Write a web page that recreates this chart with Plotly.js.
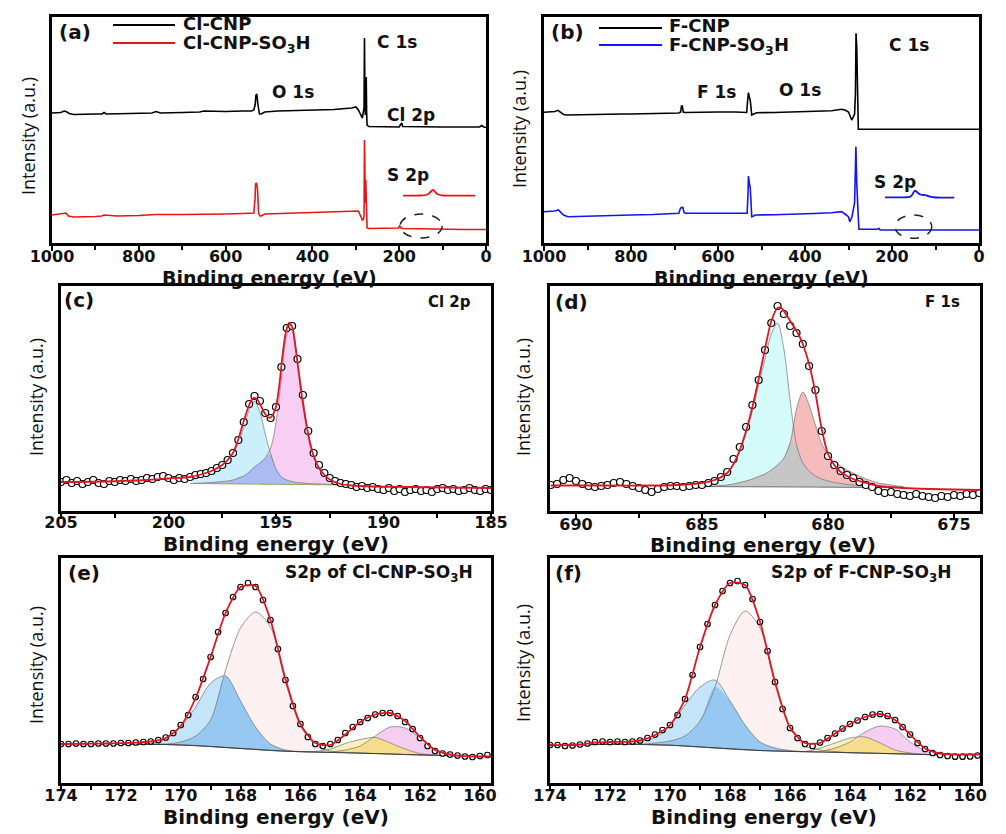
<!DOCTYPE html>
<html><head><meta charset="utf-8">
<script src="https://cdn.plot.ly/plotly-3.0.1.min.js"></script>
<style>html,body{margin:0;padding:0;background:#fff}#chart{width:1006px;height:834px}</style>
</head><body><div id="chart"></div>
<script>
// ---------- (a) survey: Cl-CNP / Cl-CNP-SO3H ----------
const a_cl_x = [1000,990,980,972,968,960,950,900,885,880,875,820,770,760,750,700,660,650,600,560,540,535,532,530,528,526,524,522,518,510,480,440,400,350,310,300,294,289,285,281,280,279,278,277,276,275,274,270,230,200,196,194,192,150,100,50,15,10,5,0];
const a_cl_y = [130,130,130.5,132,131.5,129.5,128.5,129,129,130.5,129,129.5,130,131.5,130,130.5,131,132,131.5,132,132,133,138,148,149,140,132,129,129,131,132,132.5,133,133.5,135,136,133,128,125,135,205,150,128,160,166,130,118,116.5,116,116,119,120,116.5,116,116,116,116,117.5,116,115.5];
const a_so3h_x = [1000,990,980,972,968,962,955,950,900,885,880,850,800,760,700,650,600,560,540,535,532,531,529,527,526,524,521,518,510,450,400,350,310,300,294,289,285,282,281,280,279,278,277,276,275,274,270,230,210,202,199,196,190,150,100,50,0];
const a_so3h_y = [28,28.5,29,30,30,27,26,26,26.5,27,28,27,27.5,28.5,28.5,28.5,29,29.5,29.5,30,45,59,60,56,50,30,27,27,29,30,30.5,31,32,32.5,32,27,23,24,28,103,60,40,63,45,25,15,14.5,14.5,14.5,15,17,15,14.5,14,14,13.5,13.5];
const a_inset_x = [191,170,150,138,130,126,122,119,116,112,106,100,80,50,25];
const a_inset_y = [47.3,47.3,47.5,48,50,52,53,52,50.5,49,48,47.5,47.3,47.3,47.3];

// ---------- (b) survey: F-CNP / F-CNP-SO3H ----------
const b_f_x = [1000,985,975,968,962,955,948,900,876,820,800,750,700,690,686,684,682,680,676,640,600,560,540,534,532,530,528,526,524,522.5,518,511,470,416,380,339,316,308,300,296,292.6,290,286,284,282.7,281,279.5,278,277.4,250,150,50,0];
const b_f_y = [130.7,131,131.5,132.7,131,128.5,128,128.5,129,129,129,129.5,130,130,131,137,137,131,130.5,131,131,131,130.5,130.5,142,150.3,146,143,135,128,129,130.3,130.5,131,131.5,132.3,133.7,133,131,127,123,125,129,150,209.7,195,170,140,113.7,113.7,113.7,113.7,113.7];
const b_so3h_x = [1000,985,976,967,960,955,945,900,876,800,750,700,690,687,685,681,678,675,640,600,560,540,533,531,530,528,526,524,522.5,518,515,470,416,380,339,316,305,300,297,292,286,284,283,281,280,278,276,260,235,230,227,200,100,0];
const b_so3h_y = [31.3,31.5,32,33,30,28,26.3,27,27.3,28,28.5,29,29.7,34,35.3,35.7,30.5,29.7,29.7,29.7,29.7,29.7,29.7,50,67,60,56,40,26.3,27,28,28.3,28.7,29.5,30.3,31.3,28,26,21.3,26.3,40,70,96.3,60,43,30,13.7,13.7,13.7,14.5,13,13,13,13];
const b_inset_x = [216,190,170,158,153,150,147,144,140,135,128,120,112,100,80,57];
const b_inset_y = [45.7,45.7,45.7,46.3,48.5,51,52.3,51.5,50,48.5,48,47.5,46.3,45.5,45.3,45.3];

// ---------- (c) Cl 2p ----------
const c_data_x = [205,204.75,204.5,204.25,204,203.75,203.5,203.25,203,202.75,202.5,202.25,202,201.75,201.5,201.25,201,200.75,200.5,200.25,200,199.75,199.5,199.25,199,198.75,198.5,198.25,198,197.75,197.5,197.25,197,196.75,196.5,196.25,196,195.75,195.5,195.25,195,194.75,194.5,194.25,194,193.75,193.5,193.25,193,192.75,192.5,192.25,192,191.75,191.5,191.25,191,190.75,190.5,190.25,190,189.75,189.5,189.25,189,188.75,188.5,188.25,188,187.75,187.5,187.25,187,186.75,186.5,186.25,186,185.75,185.5,185.25,185];
const c_data_y = [29,31,28,30,27,29,31,28,27,30,29,31,30,32,30,31,33,32,34,35,33,31,33,32,34,36,37,38,40,43,46,51,58,71,89,107,115,110,98,93,104,144,183,185,152,116,80,58,46,38,33,30,28,27,26,24,25,23,24,22,21,23,20,22,19,21,22,20,21,19,22,23,21,22,20,21,23,21,20,22,21];
const c_fit_x = [205,203,201,200,199,198.5,198,197.5,197.25,197,196.75,196.5,196.25,196.1,196,195.85,195.7,195.5,195.3,195.15,195,194.85,194.7,194.55,194.4,194.25,194.1,193.95,193.8,193.6,193.4,193.2,193,192.75,192.5,192,191.5,190.5,189,187,185];
const c_fit_y = [29,29.5,31,32.5,34,36.5,40,46,51,58,72,90,106,112,113,111,105,97,93,96,104,125,155,178,188,184,165,140,115,88,66,52,43,36,31.5,27,25.5,24.5,24,23.5,23];
const c_comp_x = [199,198.75,198.5,198.25,198,197.75,197.5,197.25,197,196.75,196.5,196.25,196,195.75,195.5,195.25,195,194.75,194.5,194.25,194,193.75,193.5,193.25,193,192.75,192.5,192.25,192,191.75,191.5,191.25,191];
const c_base = [27.5,27.4,27.4,27.3,27.3,27.2,27.2,27.1,27.1,27,27,26.9,26.9,26.8,26.8,26.7,26.7,26.6,26.6,26.5,26.5,26.4,26.4,26.3,26.3,26.2,26.2,26.1,26.1,26,26,25.9,25.9];
const c_cl2p12 = [31,32.5,34,36,38.5,42,46,51,57,68,84,101,110,99,77,57,42,34,31,29.5,28.5,28,27.5,27.2,27,26.8,26.6,26.4,26.3,26.2,26,25.9,25.9];
const c_cl2p32 = [27.6,27.7,28,28.2,28.5,29,29.5,30,31,33,35,39,44,48,53,63,88,132,176,184,150,114,79,57,45,37,32,29.5,28,27,26.5,26.2,26];

// ---------- (d) F 1s ----------
const d_data_x = [691,690.75,690.5,690.25,690,689.75,689.5,689.25,689,688.75,688.5,688.25,688,687.75,687.5,687.25,687,686.75,686.5,686.25,686,685.75,685.5,685.25,685,684.75,684.5,684.25,684,683.75,683.5,683.25,683,682.75,682.5,682.25,682,681.75,681.5,681.25,681,680.75,680.5,680.25,680,679.75,679.5,679.25,679,678.75,678.5,678.25,678,677.75,677.5,677.25,677,676.75,676.5,676.25,676,675.75,675.5,675.25,675,674.75,674.5,674.25,674];
const d_data_y = [26,27,31,33,30,27,25,24,25,26,28,29,27,25,23,21,19,22,24,25,25,24,25,26,26,28,30,34,39,52,64,84,106,131,161,188,205,197,185,178,167,145,121,80,55,46,40,36,33,29,26,24,20,18,19,17,16,15,17,15,14,13,15,14,16,15,17,16,18];
const d_fit_x = [691,689,687,686,685,684.5,684,683.75,683.5,683.25,683,682.75,682.5,682.25,682,681.85,681.65,681.4,681.2,681,680.75,680.5,680.25,680,679.75,679.5,679.25,679,678.5,678,677,676,674];
const d_fit_y = [25.5,25.5,25.5,26,28,31,38,47,61,80,104,132,162,190,203,203,196,186,178,167,147,118,82,57,46,39,35,32,28,25,23,22,21];
const d_comp_x = [685.5,685.25,685,684.75,684.5,684.25,684,683.75,683.5,683.25,683,682.75,682.5,682.25,682,681.75,681.5,681.25,681,680.75,680.5,680.25,680,679.75,679.5,679.25,679,678.75,678.5,678.25,678,677.75,677.5,677.25,677];
const d_base = [24.5,24.5,24.4,24.4,24.4,24.3,24.3,24.3,24.2,24.2,24.2,24.1,24.1,24.1,24,24,24,24,23.9,23.9,23.9,23.8,23.8,23.8,23.7,23.7,23.7,23.6,23.6,23.6,23.5,23.5,23.5,23.5,23.5];
const d_f1 = [26,26.5,27.5,29,31,34,38,47,59,78,100,126,152,177,188,162,110,66,48,40,35,32,30,28.5,27.5,26.5,26,25.5,25,24.7,24.5,24.3,24.2,24,23.8];
const d_f2 = [24.5,24.5,24.6,24.8,25,25.5,26,27,28.5,30,32,34.5,37,41,46,53,68,102,119,106,86,67,56,49,45,41,38,35,32,30,28,27,26,25,24.5];

// ---------- (e)/(f) S 2p ----------
const s_data_x = [174,173.75,173.5,173.25,173,172.75,172.5,172.25,172,171.75,171.5,171.25,171,170.75,170.5,170.25,170,169.75,169.5,169.25,169,168.75,168.5,168.25,168,167.75,167.5,167.25,167,166.75,166.5,166.25,166,165.75,165.5,165.25,165,164.75,164.5,164.25,164,163.75,163.5,163.25,163,162.75,162.5,162.25,162,161.75,161.5,161.25,161,160.75,160.5,160.25,160,159.75];
const e_data_y = [39,39,39.5,39,39,39.5,39.5,39.5,40,40,40.5,41,41.5,43,45.5,50,58,68,86,104,126,151,170,186,196,200,196,183,163,134,103,77,59,46,39,37,39,43,50,56,61,65,68.5,70,70,67,61,54,45,37,32,29.5,28.5,27.5,26.5,26,27,28];
const f_data_y = [38,38,37,37.5,38.5,39.5,41,41.5,41,41.5,41,41.5,42.5,45,48.5,53,58,68,84,108,136,159,178,192,200,202,198,184,161,132,101,74,55,45,39,37,40.5,45,49.5,54.5,59,62.5,66,68.5,69,67,63,56,48.5,40,34,30,28,27,26.3,26.3,26.5,27.5];
const s_comp_x = [174,173.5,173,172.5,172,171.5,171,170.5,170,169.5,169,168.5,168,167.5,167,166.5,166,165.5,165,164.5,164,163.5,163,162.5,162,161.5,161,160.5,160,159.5];
const e_base = [39,39,39,39,39,39,38.8,38.5,38,37.5,36.5,35.5,34.5,33.5,32.5,31.8,31.3,31,30.8,30.5,30,29.5,29,28.5,28,27.6,27.3,27,26.8,26.6];
const e_so3_a = [39,39,39,39,39,39,40,44,56,76,100,107,82,56,39,33,31.5,31,30.8,30.5,30,29.5,29,28.5,28,27.6,27.3,27,26.8,26.6];
const e_so3_b = [39,39,39,39,39,39,38.8,39,41,47,63,113,155,171,156,101,57,38,32,30.5,30,29.5,29,28.5,28,27.6,27.3,27,26.8,26.6];
const e_cs_a = [39,39,39,39,39,39,38.8,38.5,38,37.5,36.5,35.5,34.5,33.5,32.5,31.8,31.3,31.5,34,39.5,43.5,45.5,40,34,29.5,27.8,27.3,27,26.8,26.6];
const e_cs_b = [39,39,39,39,39,39,38.8,38.5,38,37.5,36.5,35.5,34.5,33.5,32.5,31.8,31.3,31,31,33,37,47,56,55,45,34,28.5,27.2,26.8,26.6];
const e_fit = [39,39.2,39.3,39.5,39.8,40.3,41.5,45,57,85,126,170,196,197,163,104,59,40,38,48.5,61,68.5,70,62,46,33,28.5,26.8,26.5,26.5];
const f_base = [38,38,38.2,38.5,38.7,38.8,38.7,38.3,37.8,37,36,35,34,33.2,32.5,32,31.6,31.3,31,30.7,30.3,30,29.6,29.2,28.8,28.4,28.1,27.9,27.8,27.8];
const f_so3_a = [38,38,38.2,38.5,38.7,41,42,45.5,57,78,96,103,82,58,41,35,32.5,31.3,31,30.7,30.3,30,29.6,29.2,28.8,28.4,28.1,27.9,27.8,27.8];
const f_so3_b = [38,38,38.2,38.5,38.7,38.8,38.7,40,42,47,62,96,148,172,155,99,55,37,33,31.5,30.3,30,29.6,29.2,28.8,28.4,28.1,27.9,27.8,27.8];
const f_cs_a = [38,38,38.2,38.5,38.7,38.8,38.7,38.3,37.8,37,36,35,34,33.2,32.5,32,31.6,31.5,35,40,45,46,40,33,30,28.6,28.1,27.9,27.8,27.8];
const f_cs_b = [38,38,38.2,38.5,38.7,38.8,38.7,38.3,37.8,37,36,35,34,33.2,32.5,32,31.6,31.3,31.5,35,41,51,57,54,41,32,28.8,28,27.8,27.8];
const f_fit = [38,37.8,38.5,40.5,41,41.2,42.5,48,58,84,136,178,200,198,161,101,55.5,40,40,49.5,59,66,69,63,48.5,34.5,29.5,28.5,28.5,28.5];

// ---------- tick labels ----------
const surveyTicks = [1000,800,600,400,200,0], surveyMinor = [900,700,500,300,100];
const clTicks = [205,200,195,190,185], clMinor = [202.5,197.5,192.5,187.5];
const fTicks = [690,685,680,675], fMinor = [687.5,682.5,677.5];
const sTicks = [174,172,170,168,166,164,162,160], sMinor = [173,171,169,167,165,163,161];

// ================= build =================
const W = 1006, H = 834;
const traces = [];
function add(t, k){ const s = k>1 ? String(k) : ''; t.xaxis='x'+s; t.yaxis='y'+s; t.showlegend=false; t.hoverinfo='skip'; traces.push(t); }
function band(xs, top, base, col, k){
  const x = xs.concat(xs.slice(1,-1).reverse());
  const y = top.concat(base.slice(1,-1).reverse());
  add({x, y, mode:'lines', fill:'toself', fillcolor:col, line:{width:0, shape:'spline', smoothing:0.8}}, k);
}
function minOf(a,b){ return a.map((v,i)=>Math.min(v,b[i])); }
function outline(xs, top, k, col){ add({x:xs, y:top, mode:'lines', line:{color:col||'rgba(110,110,110,0.85)', width:0.8, shape:'spline', smoothing:0.8}}, k); }
function line(xs, ys, col, w, k, shape){ add({x:xs, y:ys, mode:'lines', line:{color:col, width:w, shape:shape||'linear', smoothing:0.7}}, k); }
function circles(xs, ys, size, k){ add({x:xs, y:ys, mode:'markers', marker:{symbol:'circle', size:size, color:'white', line:{color:'black', width:1.2}}}, k); }

const RED = 'rgb(235,20,20)', BLUE = 'rgb(20,20,235)', FIT = 'rgb(222,22,36)';
// (a)
line(a_cl_x, a_cl_y, 'black', 1.6, 1);
line(a_so3h_x, a_so3h_y, RED, 1.6, 1);
line(a_inset_x, a_inset_y, RED, 1.8, 1, 'spline');
// (b)
line(b_f_x, b_f_y, 'black', 1.6, 2);
line(b_so3h_x, b_so3h_y, BLUE, 1.6, 2);
line(b_inset_x, b_inset_y, BLUE, 1.8, 2, 'spline');
// (c)
band(c_comp_x, c_cl2p12, c_base, 'rgb(204,240,251)', 3);
band(c_comp_x, c_cl2p32, c_base, 'rgb(249,206,245)', 3);
band(c_comp_x, minOf(c_cl2p12, c_cl2p32), c_base, 'rgb(170,188,242)', 3);
outline(c_comp_x, c_cl2p12, 3); outline(c_comp_x, c_cl2p32, 3);
line(c_comp_x, c_base, 'rgba(150,150,60,0.8)', 1, 3);
circles(c_data_x, c_data_y, 7, 3);
line(c_fit_x, c_fit_y, FIT, 1.8, 3, 'spline');
// (d)
band(d_comp_x, d_f1, d_base, 'rgb(212,250,250)', 4);
band(d_comp_x, d_f2, d_base, 'rgb(246,188,188)', 4);
band(d_comp_x, minOf(d_f1, d_f2), d_base, 'rgb(198,198,198)', 4);
outline(d_comp_x, d_f1, 4); outline(d_comp_x, d_f2, 4);
line(d_comp_x, d_base, 'rgba(90,90,90,0.8)', 1, 4);
circles(d_data_x, d_data_y, 7, 4);
line(d_fit_x, d_fit_y, FIT, 1.8, 4, 'spline');
// (e) and (f)
function s2p(k, base, so3a, so3b, csa, csb, data, fit){
  band(s_comp_x, so3b, base, 'rgb(252,240,241)', k);
  band(s_comp_x, so3a, base, 'rgb(196,228,250)', k);
  band(s_comp_x, minOf(so3a, so3b), base, 'rgb(150,200,242)', k);
  band(s_comp_x, csb, base, 'rgb(246,206,242)', k);
  band(s_comp_x, csa, base, 'rgb(250,240,190)', k);
  band(s_comp_x, minOf(csa, csb), base, 'rgb(248,222,140)', k);
  outline(s_comp_x, so3a, k); outline(s_comp_x, so3b, k); outline(s_comp_x, csa, k); outline(s_comp_x, csb, k);
  line(s_comp_x, base, 'rgba(50,50,50,0.85)', 1, k);
  circles(s_data_x, data, 5.5, k);
  line(s_comp_x, fit, FIT, 1.8, k, 'spline');
}
s2p(5, e_base, e_so3_a, e_so3_b, e_cs_a, e_cs_b, e_data_y, e_fit);
s2p(6, f_base, f_so3_a, f_so3_b, f_cs_a, f_cs_b, f_data_y, f_fit);

// ---------- axes ----------
const rects = { // left, right, top, bottom in px
  1:[52,486,17,243], 2:[544,979,17,243], 3:[61,491,286,511], 4:[550,980,286,511], 5:[61,491,558,783], 6:[550,980,558,783]
};
const xcfg = {
  1:{range:[1000,0], t:surveyTicks, m:surveyMinor, fs:16, so:-8},
  2:{range:[1000,0], t:surveyTicks, m:surveyMinor, fs:16, so:-8},
  3:{range:[205,185], t:clTicks, m:clMinor, fs:16, so:-10},
  4:{range:[691.03,673.97], t:fTicks, m:fMinor, fs:16, so:-8},
  5:{range:[174,159.63], t:sTicks, m:sMinor, fs:16, so:-9},
  6:{range:[174,159.67], t:sTicks, m:sMinor, fs:16, so:-9}
};
const layout = {width:W, height:H, margin:{l:0,r:0,t:0,b:0}, paper_bgcolor:'white', plot_bgcolor:'white',
  font:{family:'DejaVu Sans', color:'black'}, showlegend:false, annotations:[], shapes:[]};
for (let k=1;k<=6;k++){
  const [l,r,t,b] = rects[k]; const s = k>1?String(k):'';
  layout['xaxis'+s] = {domain:[l/W, r/W], anchor:'y'+s, range:xcfg[k].range, showline:true, linewidth:3, linecolor:'black', mirror:true,
    showgrid:false, zeroline:false, ticks:'outside', ticklen:5, tickwidth:2, tickcolor:'black', tickmode:'array', tickvals:xcfg[k].t,
    ticklabelstandoff:xcfg[k].so,
    tickfont:{family:'DejaVu Sans', size:xcfg[k].fs, color:'#111', weight:'bold'},
    minor:{tickmode:'array', tickvals:xcfg[k].m, ticks:'outside', ticklen:4, tickwidth:2, tickcolor:'black', showgrid:false}};
  layout['yaxis'+s] = {domain:[1-b/H, 1-t/H], anchor:'x'+s, range:[0, b-t], showline:true, linewidth:3, linecolor:'black', mirror:true,
    showgrid:false, zeroline:false, ticks:'', showticklabels:false};
}
function ann(text, px, py, size, anchor, extra){
  return Object.assign({text, x:px/W, y:1-py/H, xref:'paper', yref:'paper', xanchor:anchor||'left', yanchor:'middle', showarrow:false,
    font:{family:'DejaVu Sans', size, color:'#111', weight:'bold'}}, extra||{});
}
function ytitle(px, py){ return ann('Intensity (a.u.)', px, py, 18, 'center', {textangle:-90, font:{family:'Open Sans', size:18, color:'#111'}}); }
const A = layout.annotations;
// (a)
A.push(ann('(a)', 57, 32, 20), ann('Cl-CNP', 181, 23, 18), ann('Cl-CNP-SO<sub>3</sub>H', 181, 44, 18),
  ann('C 1s', 375, 42, 17), ann('O 1s', 270, 92, 17), ann('Cl 2p', 385, 115, 17), ann('S 2p', 385, 175, 17),
  ytitle(28, 136), ann('Binding energy (eV)', 269, 278, 19, 'center'));
// (b)
A.push(ann('(b)', 549, 32, 20), ann('F-CNP', 667, 25, 18), ann('F-CNP-SO<sub>3</sub>H', 667, 46, 18),
  ann('C 1s', 887, 45, 17), ann('F 1s', 695, 92, 17), ann('O 1s', 777, 90, 17), ann('S 2p', 872, 182, 17),
  ytitle(519, 129), ann('Binding energy (eV)', 761, 278, 19, 'center'));
// (c)-(f)
A.push(ann('(c)', 62, 300, 20), ann('Cl 2p', 473, 302, 15, 'right'), ytitle(36, 397), ann('Binding energy (eV)', 276, 544, 20, 'center'));
A.push(ann('(d)', 553, 302, 20), ann('F 1s', 962, 302, 15, 'right'), ytitle(523, 397), ann('Binding energy (eV)', 763, 545, 20, 'center'));
A.push(ann('(e)', 66, 573, 20), ann('S2p of Cl-CNP-SO<sub>3</sub>H', 475, 573, 17, 'right'), ytitle(36, 665), ann('Binding energy (eV)', 276, 817, 20, 'center'));
A.push(ann('(f)', 553, 573, 20), ann('S2p of F-CNP-SO<sub>3</sub>H', 953, 573, 17, 'right'), ytitle(523, 663), ann('Binding energy (eV)', 764, 817, 20, 'center'));
// legend samples and dashed ellipses
const S = layout.shapes;
function pline(x0,x1,y,col){ S.push({type:'line', xref:'paper', yref:'paper', x0:x0/W, x1:x1/W, y0:1-y/H, y1:1-y/H, line:{color:col, width:2}}); }
pline(113,175,25,'black'); pline(113,175,43,RED);
pline(599,662,28,'black'); pline(599,662,45,BLUE);
S.push({type:'circle', xref:'x', yref:'y', x0:198, x1:101, y0:5, y1:29, line:{color:'#222', width:1.5, dash:'dash'}});
S.push({type:'circle', xref:'x2', yref:'y2', x0:193, x1:108.7, y0:4.7, y1:28, line:{color:'#222', width:1.5, dash:'dash'}});

Plotly.newPlot('chart', traces, layout, {staticPlot:true, displayModeBar:false});
</script></body></html>
